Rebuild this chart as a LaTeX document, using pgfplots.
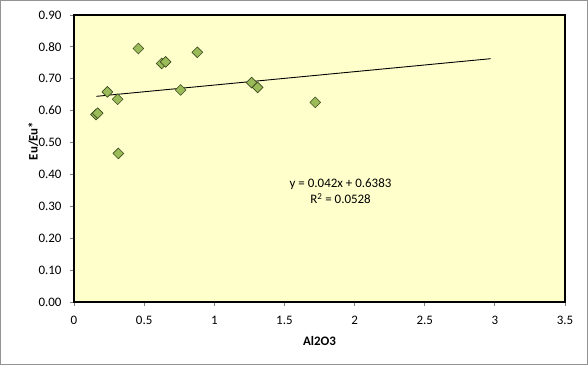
\documentclass[border=0pt]{standalone}
\usepackage{pgfplots}
\pgfplotsset{compat=1.18}
\usepackage{fontspec}
\setmainfont{Carlito}
\definecolor{plotbg}{HTML}{FFFFCC}
\definecolor{mkfill}{HTML}{9BBB59}
\definecolor{mkdraw}{HTML}{3B4A1E}
\begin{document}
\begin{tikzpicture}[x=1bp,y=1bp]
\useasboundingbox (0,0) rectangle (588,365);
\fill[white] (0,0) rectangle (588,365);
\draw[color=gray!85, line width=1.2bp] (0.6,0.6) rectangle (587.4,364.4);
\begin{axis}[
  at={(74bp,63bp)}, anchor=south west,
  scale only axis, width=491bp, height=287bp,
  xmin=0, xmax=3.5, ymin=0, ymax=0.9,
  xtick={0,0.5,...,3.5},
  ytick={0,0.1,...,0.91},
  axis background/.style={fill=plotbg},
  axis line style={black, line width=1.3bp},
  tick align=outside, tick pos=left,
  major tick length=4bp,
  tick style={color=gray, line width=0.8bp},
  font=\fontsize{13}{15}\selectfont,
  /pgf/number format/assume math mode=true,
  yticklabel style={xshift=-5bp, /pgf/number format/.cd, fixed, fixed zerofill, precision=2},
  xticklabel style={yshift=-7bp, /pgf/number format/.cd, fixed, precision=1},
  xlabel={\textbf{Al2O3}},
  ylabel={\textbf{Eu/Eu*}},
  xlabel style={at={(axis description cs:0.5,-0.136)}, anchor=center},
  ylabel style={at={(axis description cs:-0.083,0.561)}, anchor=center},
]
\addplot[only marks, mark=square*, mark size=3.8bp,
  mark options={rotate=45, fill=mkfill, draw=mkdraw, line width=0.6bp}]
  coordinates {
  (0.157,0.588) (0.169,0.592) (0.238,0.659) (0.311,0.636)
  (0.459,0.795) (0.625,0.748) (0.653,0.753) (0.760,0.665)
  (0.879,0.783) (1.266,0.688) (1.309,0.673) (1.720,0.626)
  (0.316,0.466)
  };
\addplot[black, line width=0.9bp] coordinates {(0.16,0.645) (2.97,0.763)};
\node[align=center, font=\fontsize{13}{16}\selectfont] at (axis cs:1.90,0.348)
  {y = 0.042x + 0.6383\\R\textsuperscript{2} = 0.0528};
\end{axis}
\end{tikzpicture}
\end{document}
